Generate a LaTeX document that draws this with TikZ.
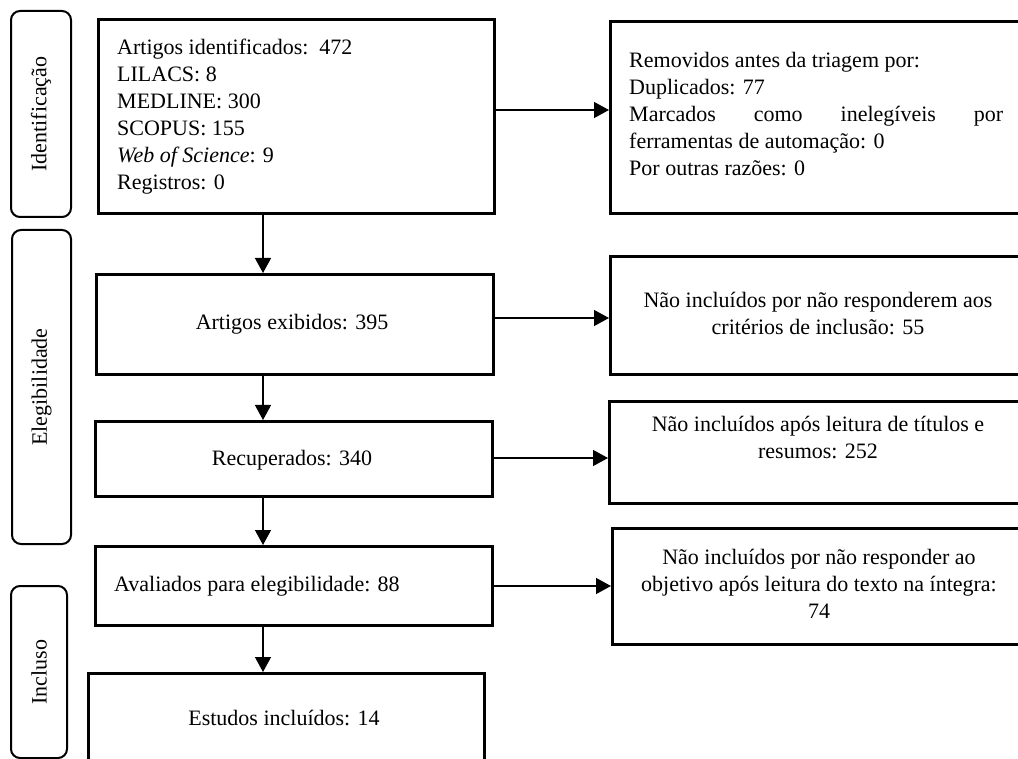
\documentclass[tikz,border=0pt]{standalone}
\usepackage{fontspec}
\setmainfont{Liberation Serif}
\usetikzlibrary{arrows.meta}
\begin{document}
\begin{tikzpicture}[x=1pt,y=-1pt,
  box/.style={draw, line width=2.6pt, rectangle, inner sep=0pt, anchor=north west},
  side/.style={draw, line width=2pt, rounded corners=9pt, rectangle, inner sep=0pt, anchor=north west},
  txt/.style={inner sep=0pt, font=\fontsize{22}{27}\selectfont},
  arr/.style={line width=1.3pt, -{Triangle[length=15pt,width=16pt]}},
]
\useasboundingbox (0,0) rectangle (1018,759);
\clip (0,0) rectangle (1018,759);

% side phase boxes
\node[side, minimum width=60pt, minimum height=206pt] (s1) at (10,10) {};
\node[side, minimum width=59pt, minimum height=314pt] (s2) at (11,229) {};
\node[side, minimum width=56pt, minimum height=172pt] (s3) at (10,585) {};
\node[txt, rotate=90] (s1t) at (s1.center) {Identificação};
\node[txt, rotate=90] (s2t) at (s2.center) {Elegibilidade};
\node[txt, rotate=90] (s3t) at (s3.center) {Incluso};

% main column
\node[box, minimum width=396pt, minimum height=194pt] (b1) at (97,18) {};
\node[box, minimum width=397pt, minimum height=100pt] (b2) at (95,273) {};
\node[box, minimum width=397pt, minimum height=75pt] (b3) at (94,420) {};
\node[box, minimum width=397pt, minimum height=79pt] (b4) at (94,545) {};
\node[box, minimum width=396pt, minimum height=130pt] (b5) at (87,672) {};

% right column
\node[box, minimum width=450pt, minimum height=192pt] (r1) at (609,20) {};
\node[box, minimum width=450pt, minimum height=118pt] (r2) at (609,255) {};
\node[box, minimum width=450pt, minimum height=102pt] (r3) at (608,400) {};
\node[box, minimum width=450pt, minimum height=116pt] (r4) at (611,527) {};

% texts (base anchor of a multi-line node = baseline of its last line)
\node[txt, anchor=base west, align=left] (t1) at (117,190)
  {Artigos identificados:\ \ 472\\ LILACS: 8\\ MEDLINE: 300\\ SCOPUS: 155\\ \textit{Web of Science}: 9\\ Registros: 0};
\node[txt, anchor=base] (t2) at (292,330) {Artigos exibidos: 395};
\node[txt, anchor=base] (t3) at (292,465) {Recuperados: 340};
\node[txt, anchor=base west] (t4) at (114,591) {Avaliados para elegibilidade: 88};
\node[txt, anchor=base] (t5) at (284,725) {Estudos incluídos: 14};

\node[txt, anchor=base west, align=left] (u1) at (629,176)
  {Removidos antes da triagem por:\\ Duplicados: 77\\ \hbox to 374pt{Marcados\hfill como\hfill inelegíveis\hfill por}\\ ferramentas de automação: 0\\ Por outras razões: 0};
\node[txt, anchor=base, align=center] (u2) at (818,335)
  {Não incluídos por não responderem aos\\ critérios de inclusão: 55};
\node[txt, anchor=base, align=center] (u3) at (818,458)
  {Não incluídos após leitura de títulos e\\ resumos: 252};
\node[txt, anchor=base, align=center] (u4) at (819,618)
  {Não incluídos por não responder ao\\ objetivo após leitura do texto na íntegra:\\ 74};

% connectors
\coordinate (vx) at (263,0);
\draw[arr] (vx |- b1.south) -- (vx |- b2.north);
\draw[arr] (vx |- b2.south) -- (vx |- b3.north);
\draw[arr] (vx |- b3.south) -- (vx |- b4.north);
\draw[arr] (vx |- b4.south) -- (vx |- b5.north);

\coordinate (h1) at (0,110);
\coordinate (h2) at (0,318);
\coordinate (h3) at (0,458);
\coordinate (h4) at (0,586);
\draw[arr] (h1 -| b1.east) -- (h1 -| r1.west);
\draw[arr] (h2 -| b2.east) -- (h2 -| r2.west);
\draw[arr] (h3 -| b3.east) -- (h3 -| r3.west);
\draw[arr] (h4 -| b4.east) -- (h4 -| r4.west);
\end{tikzpicture}
\end{document}
